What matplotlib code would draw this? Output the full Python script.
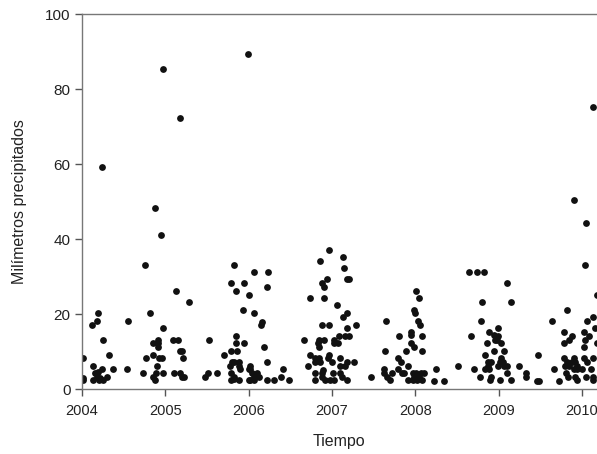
import matplotlib
matplotlib.use('Agg')
import matplotlib.pyplot as plt

# fecha (año decimal) y lluvia (mm)
fechas = [
    2004.01, 2004.02, 2004.02, 2004.12, 2004.18, 2004.19, 2004.24, 2004.26, 2004.13, 2004.33,
    2004.24, 2004.38, 2004.16, 2004.18, 2004.14, 2004.21, 2004.26, 2004.30, 2004.20, 2004.22,
    2004.56, 2004.54, 2004.73, 2004.76, 2004.77, 2004.82, 2004.88, 2004.95, 2004.98,
    2004.86, 2004.86, 2004.92, 2004.92, 2004.91, 2004.90, 2004.93, 2004.96, 2004.98, 2004.98,
    2004.89, 2004.86, 2004.88,
    2005.13, 2005.18, 2005.10, 2005.16, 2005.18, 2005.20, 2005.22, 2005.11, 2005.18, 2005.20,
    2005.23, 2005.29, 2005.48, 2005.51, 2005.52, 2005.62, 2005.70, 2005.79, 2005.79, 2005.83,
    2005.85, 2005.85, 2005.85, 2005.86, 2005.78, 2005.80, 2005.82, 2005.88, 2005.89, 2005.90,
    2005.79, 2005.82, 2005.83, 2005.79, 2005.88, 2005.93, 2005.94, 2005.94, 2006.00, 2005.99,
    2006.00, 2006.00,
    2006.06, 2006.06, 2006.16, 2006.15, 2006.18, 2006.22, 2006.23, 2006.22, 2006.02, 2006.02,
    2006.04, 2006.06, 2006.10, 2006.13, 2006.02, 2006.07, 2006.22, 2006.31, 2006.39, 2006.41,
    2006.48, 2006.67, 2006.74, 2006.71, 2006.74, 2006.80, 2006.84, 2006.80, 2006.86, 2006.83,
    2006.84, 2006.91, 2006.85, 2006.86, 2006.88, 2006.91, 2006.94, 2006.90, 2006.88, 2006.96,
    2006.97, 2006.80, 2006.88, 2006.89, 2006.80, 2006.88, 2006.92, 2006.98, 2007.02, 2007.01,
    2006.95, 2006.96, 2007.00,
    2007.03, 2007.07, 2007.03, 2007.06, 2007.09, 2007.13, 2007.15, 2007.13, 2007.18, 2007.18,
    2007.21, 2007.16, 2007.21, 2007.18, 2007.29, 2007.10, 2007.10, 2007.16, 2007.18, 2007.27,
    2007.10, 2007.12, 2007.18, 2007.47, 2007.65, 2007.64, 2007.63, 2007.63, 2007.66, 2007.72,
    2007.70, 2007.80, 2007.79, 2007.83, 2007.79, 2007.84, 2007.87, 2007.91, 2007.89, 2007.91,
    2007.95, 2007.95, 2007.95, 2007.99, 2007.98, 2008.00, 2008.01, 2008.03, 2008.04,
    2008.06, 2008.08, 2008.08, 2007.97, 2007.99, 2008.01, 2008.05, 2008.07, 2008.10, 2007.97,
    2008.02, 2008.08, 2008.25, 2008.22, 2008.34, 2008.51, 2008.64, 2008.74, 2008.83, 2008.67,
    2008.71, 2008.79, 2008.80, 2008.78, 2008.86, 2008.84, 2008.89, 2008.94, 2008.99, 2008.96,
    2008.98, 2008.99, 2009.03, 2008.94, 2009.07, 2009.10, 2009.15, 2008.87, 2008.91, 2008.88,
    2008.84, 2008.87, 2009.03, 2009.02, 2009.05, 2008.99, 2009.06, 2009.10, 2009.10, 2009.02,
    2009.15, 2008.91, 2008.90,
    2009.24, 2009.33, 2009.33, 2009.47, 2009.46, 2009.48, 2009.64, 2009.66, 2009.72, 2009.79,
    2009.82, 2009.79, 2009.84, 2009.88, 2009.79, 2009.82, 2009.84, 2009.80, 2009.88, 2009.91,
    2009.92, 2009.94, 2009.90, 2009.94, 2010.00, 2009.81, 2009.83, 2009.92, 2009.94, 2009.90,
    2010.05, 2010.04, 2010.02, 2010.06, 2010.04, 2010.09, 2010.03, 2010.02, 2010.06, 2010.13,
    2010.11, 2010.05, 2010.13, 2010.13, 2010.13, 2010.13, 2010.18, 2010.16, 2010.18,
]
lluvia = [
    2.4, 3.0, 8.2, 17.2, 18.2, 20.2, 59.3, 13.2, 6.2, 9.2,
    5.3, 5.3, 4.2, 3.3, 2.4, 2.4, 2.4, 3.3, 4.5, 3.0,
    18.2, 5.3, 4.2, 33.2, 8.2, 20.2, 48.3, 41.2, 85.3,
    12.2, 9.2, 13.0, 12.2, 11.3, 6.2, 8.2, 8.2, 16.2, 4.2,
    4.2, 3.3, 2.4,
    26.2, 72.3, 13.2, 13.2, 10.2, 10.2, 8.2, 4.2, 4.2, 3.3,
    3.3, 23.2, 3.3, 4.2, 13.2, 4.2, 9.2, 28.3, 10.2, 33.2,
    26.2, 14.2, 12.2, 10.2, 6.2, 7.2, 7.2, 7.2, 6.2, 5.3,
    4.2, 3.3, 2.8, 2.4, 2.4, 21.2, 28.3, 12.2, 25.2, 89.3,
    5.3, 2.4,
    20.2, 31.2, 17.8, 17.2, 11.2, 27.3, 31.2, 7.2, 6.2, 5.3,
    4.2, 3.3, 4.2, 3.3, 2.4, 2.4, 2.4, 2.4, 3.3, 5.3,
    2.4, 13.2, 24.2, 6.2, 9.2, 8.2, 8.2, 7.2, 7.2, 12.2,
    13.2, 13.2, 11.2, 34.2, 28.3, 27.3, 29.3, 24.2, 17.2, 17.2,
    37.2, 4.2, 4.2, 5.1, 2.4, 3.1, 2.4, 2.4, 2.4, 4.2,
    8.2, 9.2, 7.2,
    12.2, 12.2, 13.2, 22.3, 14.2, 35.3, 32.3, 19.3, 20.2, 29.3,
    29.3, 14.2, 14.2, 16.2, 17.2, 8.2, 6.2, 6.2, 7.2, 7.2,
    4.2, 3.3, 2.4, 3.3, 18.2, 10.2, 5.3, 4.2, 3.3, 4.2,
    2.4, 14.2, 8.2, 7.2, 5.3, 4.2, 4.2, 2.4, 10.2, 6.2,
    12.2, 15.3, 14.4, 11.2, 21.2, 20.2, 26.2, 18.2, 24.2,
    17.2, 14.2, 10.2, 4.2, 3.3, 4.2, 3.3, 4.2, 4.2, 2.4,
    2.4, 2.4, 5.3, 2.1, 2.1, 6.2, 31.2, 31.2, 31.2, 14.2,
    5.3, 18.2, 23.2, 3.3, 12.2, 9.2, 15.3, 14.4, 16.2, 13.2,
    13.2, 14.2, 12.2, 10.2, 10.2, 28.3, 23.2, 7.2, 7.2, 5.3,
    5.3, 6.2, 8.2, 7.2, 7.2, 6.2, 6.2, 6.2, 4.2, 2.4,
    2.4, 3.3, 2.4,
    6.2, 4.2, 3.3, 9.2, 2.1, 2.1, 18.2, 5.3, 2.1, 12.2,
    21.2, 15.3, 13.2, 14.2, 8.2, 7.2, 6.2, 6.2, 7.2, 8.2,
    7.2, 6.2, 5.3, 5.3, 5.3, 4.2, 3.3, 3.3, 2.4, 50.3,
    44.3, 33.2, 15.3, 18.2, 13.2, 14.2, 11.2, 8.2, 7.2, 8.2,
    5.3, 3.3, 3.3, 2.4, 75.3, 19.3, 25.2, 16.2, 12.2,
]

anios = [2004, 2005, 2006, 2007, 2008, 2009, 2010]
marcas_y = [0, 20, 40, 60, 80, 100]

plt.rcParams['font.family'] = ['Liberation Sans', 'DejaVu Sans']

fig = plt.figure(figsize=(5.97, 4.54), dpi=100)
ax = fig.add_axes([0.137, 0.143, 0.863, 0.826])

ax.scatter(fechas, lluvia, s=24, color='#111111', linewidths=0)

ax.set_xlim(2004, 2010.18)
ax.set_ylim(0, 100)
ax.set_xticks(anios)
ax.set_xticklabels([str(a) for a in anios], fontsize=10.5, color='#222222')
ax.set_yticks(marcas_y)
ax.set_yticklabels([str(v) for v in marcas_y], fontsize=11, color='#222222')

for lado in ['left', 'bottom', 'top']:
    ax.spines[lado].set_color('#777777')
    ax.spines[lado].set_linewidth(1.0)
ax.spines['right'].set_visible(False)
ax.tick_params(direction='out', length=5, width=1, color='#555555', pad=3)
ax.tick_params(axis='x', pad=6)

ax.set_xlabel('Tiempo', fontsize=11.5, color='#222222', labelpad=11)
ax.set_ylabel('Milímetros precipitados', fontsize=11.5, color='#222222', labelpad=13)

plt.savefig('out.png', dpi=100)
